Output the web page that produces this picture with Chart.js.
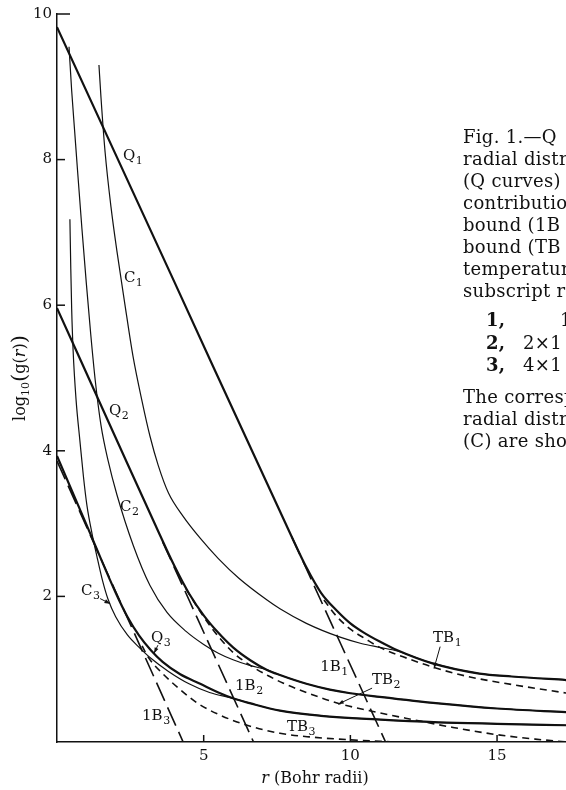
<!DOCTYPE html>
<html>
<head>
<meta charset="utf-8">
<script src="https://cdn.jsdelivr.net/npm/chart.js@4.4.1/dist/chart.umd.min.js"></script>
<style>
html, body { margin: 0; padding: 0; background: #fff; overflow: hidden; }
#wrap { position: relative; width: 566px; height: 790px; overflow: hidden; }
#caption { position: absolute; left: 463px; top: 0; font-family: "DejaVu Serif", serif; font-size: 18px; letter-spacing: 0.3px; color: #111; white-space: nowrap; }
#caption div { position: absolute; left: 0; line-height: 18px; }
#caption b { font-weight: bold; }
</style>
</head>
<body>
<div id="wrap">
<canvas id="chart" width="566" height="790"></canvas>
<div id="caption">
  <div style="top:128px">Fig. 1.—Q</div>
  <div style="top:150px">radial distr</div>
  <div style="top:172px">(Q curves)</div>
  <div style="top:194px">contributio</div>
  <div style="top:216px">bound (1B</div>
  <div style="top:238px">bound (TB</div>
  <div style="top:260px">temperatur</div>
  <div style="top:282px">subscript r</div>
  <div style="top:311px;left:23px"><b>1,</b></div><div style="top:311px;left:97px">1</div>
  <div style="top:334px;left:23px"><b>2,</b></div><div style="top:334px;left:60px">2×1</div>
  <div style="top:356px;left:23px"><b>3,</b></div><div style="top:356px;left:60px">4×1</div>
  <div style="top:388px">The corresp</div>
  <div style="top:410px">radial distr</div>
  <div style="top:432px">(C) are sho</div>
</div>
</div>
<script>
// tick labels
const xTicks = [5, 10, 15];
const yTicks = [2, 4, 6, 8, 10];

// quantum-mechanical curves (r, log10 g)
const q1 = [[0,9.82],[4,6.32],[8,2.82],[8.5,2.4],[9,2.05],[9.55,1.8],[10,1.63],[10.43,1.51],[11,1.38],[11.6,1.26],[12.8,1.08],[14.4,0.94],[15.5,0.9],[17.4,0.85]];
const q2 = [[0,5.96],[2,4.18],[3.5,2.85],[4,2.42],[4.5,2.04],[5,1.74],[5.5,1.5],[6,1.3],[6.6,1.12],[7.16,0.99],[7.6,0.92],[8.5,0.8],[9.3,0.72],[10,0.67],[11,0.62],[13,0.53],[15,0.46],[17.4,0.41]];
const q3 = [[0,3.93],[1,2.99],[2,2.05],[2.4,1.72],[2.8,1.46],[3.2,1.26],[3.6,1.1],[4.2,0.93],[4.88,0.8],[5.5,0.68],[6,0.6],[6.6,0.53],[7.6,0.43],[9,0.36],[10.9,0.31],[13,0.27],[15,0.25],[17.4,0.23]];

// classical curves
const c1 = [[1.43,9.3],[1.5,8.85],[1.64,8.1],[1.84,7.35],[2.04,6.75],[2.3,6.05],[2.59,5.3],[2.9,4.68],[3.17,4.2],[3.45,3.8],[3.8,3.42],[4.3,3.1],[4.88,2.8],[5.5,2.52],[6.2,2.25],[7.16,1.95],[7.6,1.83],[8.5,1.63],[9.65,1.44],[10.4,1.35],[11,1.3],[11.6,1.25],[12.8,1.08],[14.4,0.94],[15.5,0.9],[17.4,0.85]];
const c2 = [[0.41,9.55],[0.5,8.95],[0.6,8.4],[0.7,7.85],[0.85,7.05],[1,6.3],[1.15,5.6],[1.3,4.98],[1.5,4.35],[1.75,3.85],[2.04,3.4],[2.6,2.7],[3.17,2.15],[3.75,1.78],[4.4,1.52],[5,1.34],[5.5,1.22],[6,1.13],[6.6,1.05],[7.16,0.99],[7.6,0.92],[8.5,0.8],[9.3,0.72],[10,0.67],[11,0.62],[13,0.53],[15,0.46],[17.4,0.41]];
const c3 = [[0.44,7.18],[0.47,6.5],[0.5,5.95],[0.55,5.37],[0.65,4.7],[0.78,4.14],[0.9,3.65],[1.02,3.25],[1.2,2.85],[1.36,2.55],[1.55,2.22],[1.74,1.96],[2,1.72],[2.4,1.47],[2.8,1.3],[3.2,1.15],[3.8,0.97],[4.5,0.8],[5.2,0.68],[6,0.6],[6.6,0.53],[7.6,0.43],[9,0.36],[10.9,0.31],[13,0.27],[15,0.25],[17.4,0.23]];

// ground-state bound (1B) and total bound (TB) contributions
const b1 = [[8,2.82],[11.2,0]];
const b2 = [[3.6,2.75],[6.7,0]];
const b3 = [[0,3.86],[4.3,0]];
const tb1 = [[9.1,1.95],[9.5,1.74],[10,1.55],[10.5,1.42],[11,1.3],[12,1.14],[12.8,1.03],[14,0.9],[15.5,0.79],[17.4,0.67]];
const tb2 = [[4.4,2.1],[5,1.72],[5.5,1.45],[6,1.23],[6.6,1.05],[7.2,0.91],[7.7,0.81],[8.5,0.68],[9.6,0.53],[11,0.4],[12.1,0.31],[13.5,0.2],[15,0.1],[16.3,0.04],[17.4,0]];
const tb3 = [[2.9,1.32],[3.1,1.17],[3.6,0.94],[4.2,0.72],[4.8,0.53],[5.5,0.38],[6.4,0.24],[7.6,0.12],[8.6,0.07],[10,0.03],[11.5,0]];

// curve labels: text, subscript, position (data units)
const curveLabels = [
  ["Q","1",2.25,7.99],["C","1",2.28,6.32],["Q","2",1.77,4.49],["C","2",2.15,3.17],
  ["C","3",0.82,2.02],["Q","3",3.2,1.37],["1B","3",2.9,0.30],["1B","2",6.07,0.71],
  ["1B","1",8.97,0.98],["TB","1",12.82,1.37],["TB","2",10.74,0.79],["TB","3",7.84,0.15]
];
// little arrows from labels to curves
const pointers = [
  [1.47,1.97,1.81,1.9],[3.44,1.33,3.31,1.22],[13.06,1.31,12.85,1.01],[10.74,0.74,9.58,0.52]
];

const INK = "#111";
const SERIF = '"DejaVu Serif", serif';

function line(points, width, dash) {
  return {
    data: points.map(p => ({x: p[0], y: p[1]})),
    borderColor: INK,
    borderWidth: width,
    borderDash: dash,
    pointRadius: 0,
    fill: false,
    cubicInterpolationMode: "monotone"
  };
}

const inkPlugin = {
  id: "ink",
  afterDraw(chart) {
    const ctx = chart.ctx;
    const xs = chart.scales.x, ys = chart.scales.y;
    const ca = chart.chartArea;
    ctx.save();
    ctx.strokeStyle = INK;
    ctx.fillStyle = INK;
    ctx.lineWidth = 1.5;

    // inward tick marks
    yTicks.forEach(v => {
      const p = ys.getPixelForValue(v);
      ctx.beginPath();
      ctx.moveTo(ca.left, p);
      ctx.lineTo(ca.left + (v === 10 ? 13 : 8), p);
      ctx.stroke();
    });
    xTicks.forEach(v => {
      const p = xs.getPixelForValue(v);
      ctx.beginPath();
      ctx.moveTo(p, ca.bottom);
      ctx.lineTo(p, ca.bottom - 7);
      ctx.stroke();
    });

    // curve labels
    ctx.textBaseline = "alphabetic";
    ctx.textAlign = "left";
    curveLabels.forEach(l => {
      const px = xs.getPixelForValue(l[2]), py = ys.getPixelForValue(l[3]);
      ctx.font = "15px " + SERIF;
      ctx.fillText(l[0], px, py);
      const w = ctx.measureText(l[0]).width;
      ctx.font = "11px " + SERIF;
      ctx.fillText(l[1], px + w + 0.5, py + 4);
    });

    // pointers
    ctx.lineWidth = 1;
    pointers.forEach(a => {
      const x0 = xs.getPixelForValue(a[0]), y0 = ys.getPixelForValue(a[1]);
      const x1 = xs.getPixelForValue(a[2]), y1 = ys.getPixelForValue(a[3]);
      ctx.beginPath();
      ctx.moveTo(x0, y0);
      ctx.lineTo(x1, y1);
      ctx.stroke();
      const ang = Math.atan2(y1 - y0, x1 - x0);
      ctx.beginPath();
      ctx.moveTo(x1, y1);
      ctx.lineTo(x1 - 6 * Math.cos(ang - 0.35), y1 - 6 * Math.sin(ang - 0.35));
      ctx.lineTo(x1 - 6 * Math.cos(ang + 0.35), y1 - 6 * Math.sin(ang + 0.35));
      ctx.closePath();
      ctx.fill();
    });

    // x axis title
    ctx.font = "italic 16px " + SERIF;
    const rw = ctx.measureText("r").width;
    ctx.font = "16px " + SERIF;
    const tw = ctx.measureText(" (Bohr radii)").width;
    let tx = 315 - (rw + tw) / 2;
    ctx.font = "italic 16px " + SERIF;
    ctx.fillText("r", tx, 783);
    ctx.font = "16px " + SERIF;
    ctx.fillText(" (Bohr radii)", tx + rw, 783);

    // y axis title, rotated
    const parts = [
      ["log", "16px", 0], ["10", "11px", 4], ["(", "21px", 1], ["g(", "16px", 0],
      ["r", "italic 16px", 0], [")", "16px", 0], [")", "21px", 1]
    ];
    let total = 0;
    parts.forEach(p => { ctx.font = p[1] + " " + SERIF; total += ctx.measureText(p[0]).width; });
    ctx.translate(25, 378);
    ctx.rotate(-Math.PI / 2);
    let cx = -total / 2;
    parts.forEach(p => {
      ctx.font = p[1] + " " + SERIF;
      ctx.fillText(p[0], cx, p[2]);
      cx += ctx.measureText(p[0]).width;
    });
    ctx.restore();
  }
};

new Chart(document.getElementById("chart"), {
  type: "line",
  data: {
    datasets: [
      line(c1, 1.2, []),
      line(c2, 1.2, []),
      line(c3, 1.2, []),
      line(q1, 2.2, []),
      line(q2, 2.2, []),
      line(q3, 2.2, []),
      line(b1, 1.6, [20, 7]),
      line(b2, 1.6, [20, 7]),
      line(b3, 1.6, [20, 7]),
      line(tb1, 1.6, [7, 5]),
      line(tb2, 1.6, [7, 5]),
      line(tb3, 1.6, [7, 5])
    ]
  },
  options: {
    responsive: false,
    animation: false,
    devicePixelRatio: 1,
    layout: { padding: { top: 11, right: 0, left: 0, bottom: 0 } },
    plugins: { legend: { display: false }, tooltip: { enabled: false } },
    scales: {
      x: {
        type: "linear",
        min: 0,
        max: 17.35,
        grid: { display: false, drawTicks: false },
        border: { display: true, color: INK, width: 1.5 },
        afterBuildTicks: s => { s.ticks = xTicks.map(v => ({value: v})); },
        afterFit: s => { s.height = 48; },
        ticks: { color: INK, padding: 5, maxRotation: 0, font: { family: SERIF, size: 15 } }
      },
      y: {
        type: "linear",
        min: 0,
        max: 10,
        grid: { display: false, drawTicks: false },
        border: { display: true, color: INK, width: 1.5 },
        afterBuildTicks: s => { s.ticks = yTicks.map(v => ({value: v})); },
        afterFit: s => { s.width = 57; },
        ticks: { color: INK, padding: 5, font: { family: SERIF, size: 15 } }
      }
    }
  },
  plugins: [inkPlugin]
});
</script>
</body>
</html>
